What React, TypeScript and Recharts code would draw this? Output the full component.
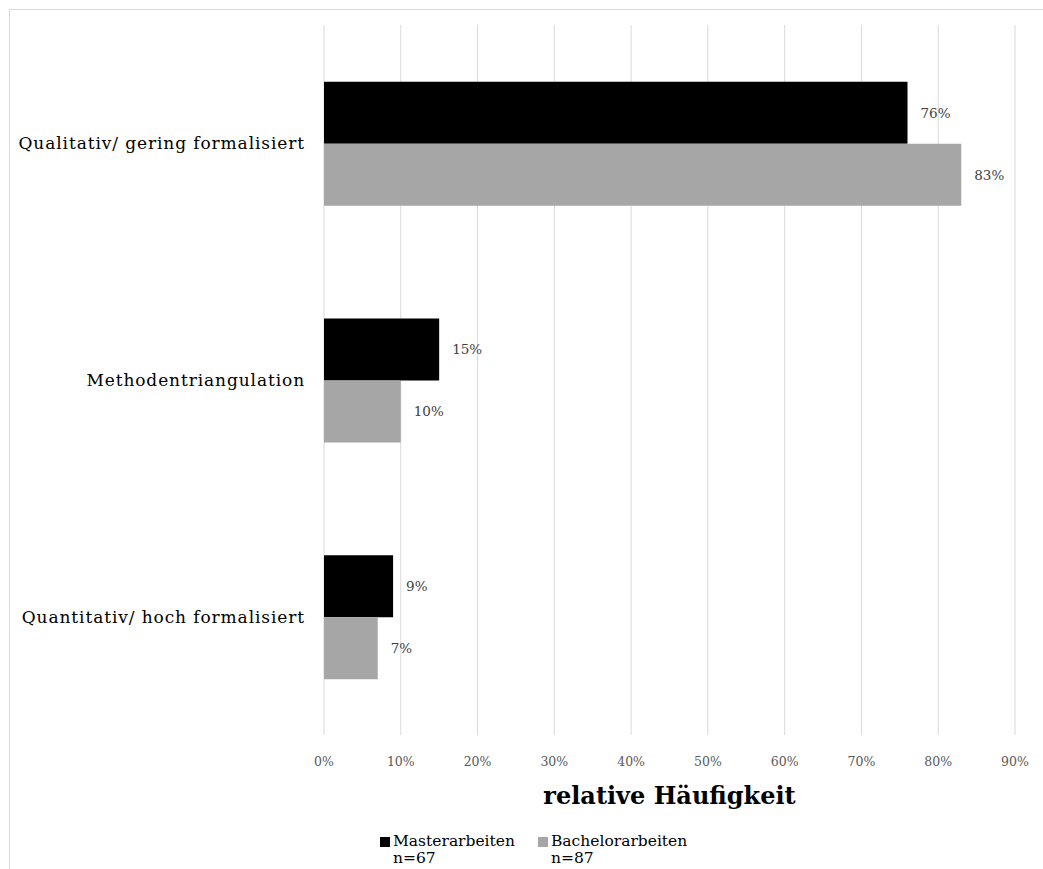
import React from 'react';
import { Bar, BarChart, CartesianGrid, LabelList, Legend, XAxis, YAxis } from 'recharts';

const CATEGORIES = [
  'Qualitativ/ gering formalisiert',
  'Methodentriangulation',
  'Quantitativ/ hoch formalisiert',
];
const MASTER = [76, 15, 9];
const BACHELOR = [83, 10, 7];
const X_TICKS = [0, 10, 20, 30, 40, 50, 60, 70, 80, 90];

const SERIES = [
  { key: 'master', name: 'Masterarbeiten', n: 'n=67', color: '#000000' },
  { key: 'bachelor', name: 'Bachelorarbeiten', n: 'n=87', color: '#a6a6a6' },
];

const FONT = '"DejaVu Serif", serif';

const data = CATEGORIES.map((category, i) => ({
  category,
  master: MASTER[i],
  bachelor: BACHELOR[i],
}));

function LegendBox() {
  return (
    <div style={{ display: 'flex', paddingLeft: 380, paddingTop: 6, fontFamily: FONT, fontSize: 15.5, color: '#000', lineHeight: '17px' }}>
      {SERIES.map((s) => (
        <div key={s.key} style={{ display: 'flex', marginRight: 23 }}>
          <span style={{ width: 10, height: 10, background: s.color, marginTop: 4, marginRight: 3 }} />
          <div>
            <div>{s.name}</div>
            <div>{s.n}</div>
          </div>
        </div>
      ))}
    </div>
  );
}

export default function App() {
  return (
    <div style={{ position: 'absolute', left: 0, top: 0, width: 1043, height: 869, background: '#fff', overflow: 'hidden' }}>
      <div style={{ position: 'absolute', left: 9, top: 9, width: 1100, height: 900, borderLeft: '1px solid #d9d9d9', borderTop: '1px solid #d9d9d9' }} />
      <BarChart
        width={1043}
        height={869}
        data={data}
        layout="vertical"
        margin={{ top: 25, right: 28, bottom: 0, left: 0 }}
        barCategoryGap="24%"
        barGap={0}
      >
        <CartesianGrid horizontal={false} stroke="#d9d9d9" />
        <XAxis
          type="number"
          domain={[0, 90]}
          ticks={X_TICKS}
          tickFormatter={(v: number) => `${v}%`}
          axisLine={false}
          tickLine={false}
          tickMargin={16}
          height={92}
          tick={{ fill: '#595959', fontSize: 12.5, fontFamily: FONT }}
          label={{
            value: 'relative Häufigkeit',
            position: 'bottom',
            offset: -40,
            style: { fill: '#000', fontSize: 24, fontWeight: 'bold', fontFamily: FONT },
          }}
        />
        <YAxis
          type="category"
          dataKey="category"
          width={324}
          axisLine={false}
          tickLine={false}
          tickMargin={13}
          tick={{ fill: '#000', fontSize: 17, letterSpacing: 0.9, fontFamily: FONT }}
        />
        <Legend verticalAlign="bottom" height={42} content={() => <LegendBox />} />
        {SERIES.map((s) => (
          <Bar key={s.key} dataKey={s.key} name={s.name} fill={s.color} isAnimationActive={false}>
            <LabelList
              dataKey={s.key}
              position="right"
              offset={13}
              formatter={(v: number) => `${v}%`}
              style={{ fill: '#404040', fontSize: 13.5, fontFamily: FONT }}
            />
          </Bar>
        ))}
      </BarChart>
    </div>
  );
}
